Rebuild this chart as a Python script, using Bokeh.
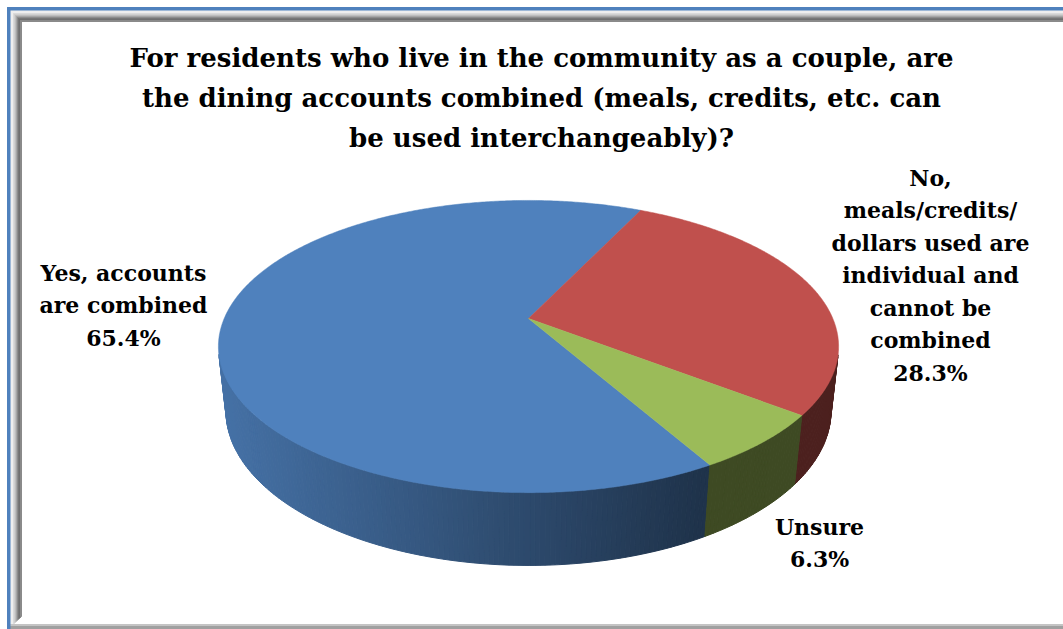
import numpy as np
from bokeh.plotting import figure
from bokeh.models import Range1d
from bokeh.embed import file_html
from bokeh.resources import INLINE
from bokeh.core.properties import value

# ---------------- data ----------------
title_lines = ["For residents who live in the community as a couple, are",
               "the dining accounts combined (meals, credits, etc. can",
               "be used interchangeably)?"]
categories = ["Yes, accounts are combined",
              "No, meals/credits/dollars used are individual and cannot be combined",
              "Unsure"]
shares = [65.4, 28.3, 6.3]
slice_colors = ["#4F81BD", "#C0504D", "#9BBB59"]
label_text = [["Yes, accounts", "are combined"],
              ["No,", "meals/credits/", "dollars used are", "individual and", "cannot be", "combined"],
              ["Unsure"]]

# ---------------- layout / style ----------------
W, H = 1063, 629
CX, CY = 528.0, 318.0          # screen position of pie centre
FOC = 1406.0
DIST = 4.62
SIN_T = 0.4624
COS_T = float(np.sqrt(1 - SIN_T ** 2))
THICK = 0.24
START = -60.2                   # first slice start angle (deg, math), clockwise
FONT = value("DejaVu Serif")
label_anchor = [(123, 272), (930, 177), (819, 526)]
LABEL_STEP = 32.5


def proj(phi_deg, z):
    ph = np.radians(phi_deg)
    x = np.cos(ph)
    y = np.sin(ph)
    d = DIST + y * COS_T - z * SIN_T
    u = FOC * x / d
    v = FOC * (y * SIN_T + z * COS_T) / d
    return CX + u, CY - v


def shade(hexcol, k):
    hexcol = hexcol.lstrip("#")
    r, g, b = (int(hexcol[i:i + 2], 16) for i in (0, 2, 4))
    return "#%02x%02x%02x" % (int(r * k), int(g * k), int(b * k))


p = figure(width=W, height=H, x_range=Range1d(0, W), y_range=Range1d(H, 0),
           output_backend="svg", toolbar_location=None,
           x_axis_type=None, y_axis_type=None, min_border=0)
p.outline_line_color = None
p.grid.visible = False
p.background_fill_color = "white"
p.border_fill_color = "white"

# ---------------- frame ----------------
p.quad(left=9.5, right=W, top=9.5, bottom=13, color="#eeeeee")
p.quad(left=9.5, right=13, top=9.5, bottom=H, color="#eeeeee")
bevel = ["#dadada", "#cfcfcf", "#bdbdbd", "#a6a6a6", "#8c8c8c", "#777777", "#6f6f6f", "#8a8a8a"]
for i, c in enumerate(bevel):
    p.quad(left=13 + i, right=14 + i, top=13 + i, bottom=H - 6 - i, color=c)
    p.quad(left=13 + i, right=W, top=13 + i, bottom=14 + i, color=c)
p.quad(left=9.5, right=W, top=H - 5, bottom=H - 3, color="#c4c4c4")
p.quad(left=9.5, right=W, top=H - 3, bottom=H, color="#a0a0a0")
p.quad(left=7, right=9.5, top=7, bottom=H, color="#4F81BD")
p.quad(left=7, right=W, top=7, bottom=9.5, color="#4F81BD")

# ---------------- pie geometry ----------------
allphi = np.linspace(0, 360, 721)
rx, _ = proj(allphi, 0.0)
xmin, xmax = rx.min(), rx.max()
vis_lim = -1.0 / (DIST * COS_T)

starts = []
a = START
for s in shares:
    span = 360.0 * s / 100.0
    starts.append((a, a - span))
    a -= span

wx, wy, wc = [], [], []
for (a0, a1), col in zip(starts, slice_colors):
    n = max(4, int(abs(a1 - a0) / 0.8))
    ph = np.linspace(a0, a1, n + 1)
    for j in range(n):
        m = 0.5 * (ph[j] + ph[j + 1])
        if np.sin(np.radians(m)) >= vis_lim:
            continue
        tx, ty = proj(np.array([ph[j], ph[j + 1]]), 0.0)
        bx, by = proj(np.array([ph[j + 1], ph[j]]), -THICK)
        t = (0.5 * (tx[0] + tx[1]) - xmin) / (xmax - xmin)
        k = max(0.40, 0.88 - 0.62 * t)
        wx.append(list(tx) + list(bx))
        wy.append(list(ty) + list(by))
        wc.append(shade(col, k))
p.patches(wx, wy, fill_color=wc, line_color=wc, line_width=1)

tx_all, ty_all = [], []
for (a0, a1) in starts:
    n = max(8, int(abs(a1 - a0) / 0.5))
    ph = np.linspace(a0, a1, n + 1)
    px, py = proj(ph, 0.0)
    tx_all.append([CX] + list(px))
    ty_all.append([CY] + list(py))
p.patches(tx_all, ty_all, fill_color=slice_colors, line_color=slice_colors, line_width=0.5)

# ---------------- texts ----------------
p.text(x=[541] * 3, y=[57, 97, 137], text=title_lines, text_align="center",
       text_baseline="alphabetic", text_font=FONT, text_font_style="bold",
       text_font_size="26px", text_color="black")

lx, ly, lt = [], [], []
for (ax, ay), lines, s in zip(label_anchor, label_text, shares):
    all_lines = lines + [f"{s:.1f}%"]
    for i, t in enumerate(all_lines):
        lx.append(ax)
        ly.append(ay + i * LABEL_STEP)
        lt.append(t)
p.text(x=lx, y=ly, text=lt, text_align="center", text_baseline="alphabetic",
       text_font=FONT, text_font_style="bold", text_font_size="22px", text_color="black")

open("out.html", "w").write(file_html(p, INLINE))
